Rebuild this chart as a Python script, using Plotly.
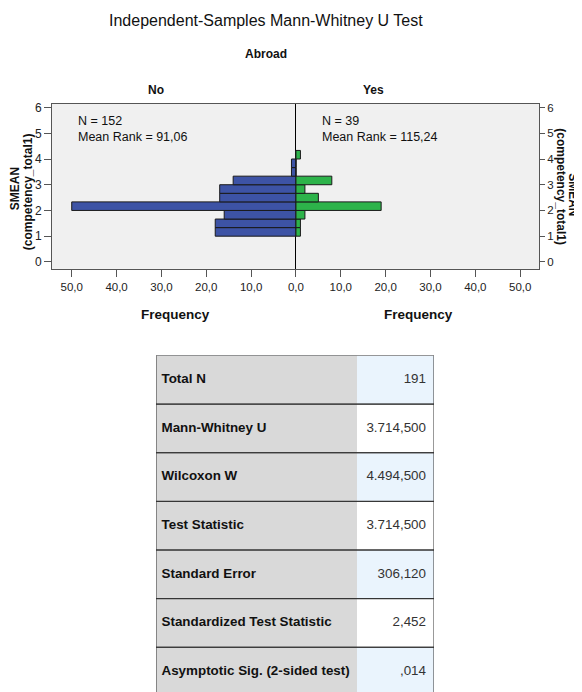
import plotly.graph_objects as go

# page body has an 8px margin, so the figure is drawn 8px in and sized to fit
OFF = 8
W, H = 582 - OFF, 692 - OFF

# ---- data ----
bin_lower = [1, 4/3, 5/3, 2, 7/3, 8/3, 3, 10/3, 11/3, 4]
bin_width = 1/3
no_counts = [18, 18, 16, 50, 17, 17, 14, 1, 1, 0]
yes_counts = [1, 1, 2, 19, 5, 2, 8, 0, 0, 1]
x_tick_vals = [-50, -40, -30, -20, -10, 0, 10, 20, 30, 40, 50]
x_tick_text = ["50,0", "40,0", "30,0", "20,0", "10,0", "0,0", "10,0", "20,0", "30,0", "40,0", "50,0"]
y_ticks = [0, 1, 2, 3, 4, 5, 6]
group_no = ["N = 152", "Mean Rank = 91,06"]
group_yes = ["N = 39", "Mean Rank = 115,24"]
table_labels = ["Total N", "Mann-Whitney U", "Wilcoxon W", "Test Statistic",
                "Standard Error", "Standardized Test Statistic", "Asymptotic Sig. (2-sided test)"]
table_values = ["191", "3.714,500", "4.494,500", "3.714,500", "306,120", "2,452", ",014"]

BLUE = "#3d53a5"
GREEN = "#2db34a"
FONT = "Liberation Sans, Arial, sans-serif"
TXT = "#111111"
AXC = "#555555"

def px(x):
    return (x - OFF) / W

def py(y):
    return 1 - (y - OFF) / H

centers = [b + bin_width / 2 for b in bin_lower]

fig = go.Figure()
fig.add_trace(go.Bar(
    y=centers, x=[-c for c in no_counts], orientation="h", width=bin_width,
    marker=dict(color=BLUE, line=dict(color="#1a1a1a", width=1)),
    showlegend=False, hoverinfo="skip", xaxis="x", yaxis="y"))
fig.add_trace(go.Bar(
    y=centers, x=yes_counts, orientation="h", width=bin_width,
    marker=dict(color=GREEN, line=dict(color="#1a1a1a", width=1)),
    showlegend=False, hoverinfo="skip", xaxis="x", yaxis="y2"))

# ---- table drawn as bars on its own hidden axes ----
LABEL_W, VALUE_W = 201, 77
TOTAL_W = LABEL_W + VALUE_W
rows = list(range(len(table_labels)))
fill_label = "#d9d9d9"
blue_cell = "#eaf4fd"
val_fills = [blue_cell if i % 2 == 0 else "white" for i in rows]

fig.add_trace(go.Bar(
    y=rows, x=[TOTAL_W] * len(rows), orientation="h", width=1,
    marker=dict(color=val_fills, line=dict(width=0)),
    showlegend=False, hoverinfo="skip", xaxis="x3", yaxis="y3"))
fig.add_trace(go.Bar(
    y=rows, x=[LABEL_W] * len(rows), orientation="h", width=1,
    marker=dict(color=fill_label, line=dict(width=0)),
    showlegend=False, hoverinfo="skip", xaxis="x3", yaxis="y3"))
fig.add_trace(go.Bar(
    y=rows, x=[TOTAL_W] * len(rows), orientation="h", width=1,
    marker=dict(color="rgba(0,0,0,0)", line=dict(color="#333333", width=1)),
    showlegend=False, hoverinfo="skip", xaxis="x3", yaxis="y3"))
fig.add_trace(go.Scatter(
    y=rows, x=[5.5] * len(rows), mode="text", text=["<b>" + t + "</b>" for t in table_labels],
    textposition="middle right", textfont=dict(family=FONT, size=13.4, color=TXT),
    showlegend=False, hoverinfo="skip", xaxis="x3", yaxis="y3", cliponaxis=False))
fig.add_trace(go.Scatter(
    y=rows, x=[TOTAL_W - 8] * len(rows), mode="text", text=table_values,
    textposition="middle left", textfont=dict(family=FONT, size=13.4, color="#333333"),
    showlegend=False, hoverinfo="skip", xaxis="x3", yaxis="y3", cliponaxis=False))

fig.update_layout(
    width=W, height=H,
    margin=dict(l=0, r=0, t=0, b=0),
    paper_bgcolor="white",
    plot_bgcolor="#f0f0f0",
    barmode="overlay",
    font=dict(family=FONT, size=11, color="#222222"),
    xaxis=dict(
        domain=[px(52), px(539)], range=[-54.4, 54.2], anchor="y",
        tickvals=x_tick_vals, ticktext=x_tick_text,
        showgrid=False, zeroline=True, zerolinecolor="#000000", zerolinewidth=1,
        showline=True, mirror=True, linecolor=AXC, linewidth=1,
        ticks="outside", ticklen=7, tickcolor=AXC,
        tickfont=dict(size=11.5, color="#222222")),
    yaxis=dict(
        domain=[py(267), py(101)], range=[-0.271, 6.155], anchor="x",
        tickvals=y_ticks, showgrid=False, zeroline=False,
        showline=True, mirror=True, linecolor=AXC, linewidth=1,
        ticks="outside", ticklen=7, tickcolor=AXC,
        tickfont=dict(size=12, color="#222222")),
    yaxis2=dict(
        overlaying="y", side="right", anchor="x", matches="y",
        range=[-0.271, 6.155], tickvals=y_ticks, showgrid=False, zeroline=False,
        ticks="outside", ticklen=5, tickcolor=AXC,
        tickfont=dict(size=11.5, color="#222222")),
    xaxis3=dict(domain=[px(156), px(434)], range=[0, TOTAL_W], anchor="y3",
                visible=False, fixedrange=True),
    yaxis3=dict(domain=[0, py(354)], range=[len(rows) - 0.58, -0.5], anchor="x3",
                visible=False, fixedrange=True),
)

ann = []
ann.append(dict(text="Independent-Samples Mann-Whitney U Test", x=px(266), y=py(18),
                font=dict(size=16, color=TXT)))
ann.append(dict(text="<b>Abroad</b>", x=px(266), y=py(51), font=dict(size=12, color=TXT)))
ann.append(dict(text="<b>No</b>", x=px(156), y=py(87), font=dict(size=12, color=TXT)))
ann.append(dict(text="<b>Yes</b>", x=px(373), y=py(87), font=dict(size=12, color=TXT)))
ann.append(dict(text="<b>Frequency</b>", x=px(175), y=py(313), font=dict(size=13.5, color=TXT)))
ann.append(dict(text="<b>Frequency</b>", x=px(418), y=py(313), font=dict(size=13.5, color=TXT)))
ann.append(dict(text="<b>SMEAN</b>", x=px(15), y=py(187), textangle=-90, font=dict(size=12, color=TXT)))
ann.append(dict(text="<b>(competency_total1)</b>", x=px(28), y=py(190), textangle=-90, font=dict(size=12, color=TXT)))
ann.append(dict(text="<b>SMEAN</b>", x=px(573), y=py(192), textangle=90, font=dict(size=12, color=TXT)))
ann.append(dict(text="<b>(competency_total1)</b>", x=px(561), y=py(184), textangle=90, font=dict(size=12, color=TXT)))
ann.append(dict(text="<br>".join(group_no), x=px(77), y=py(126.5), xanchor="left", align="left",
                borderpad=0, font=dict(size=12.5, color=TXT)))
ann.append(dict(text="<br>".join(group_yes), x=px(321), y=py(126.5), xanchor="left", align="left",
                borderpad=0, font=dict(size=12.5, color=TXT)))
for a in ann:
    a.setdefault("xref", "paper")
    a.setdefault("yref", "paper")
    a["showarrow"] = False
    a.setdefault("xanchor", "center")
    a.setdefault("yanchor", "middle")
fig.update_layout(annotations=ann)

fig.write_html("out.html")
